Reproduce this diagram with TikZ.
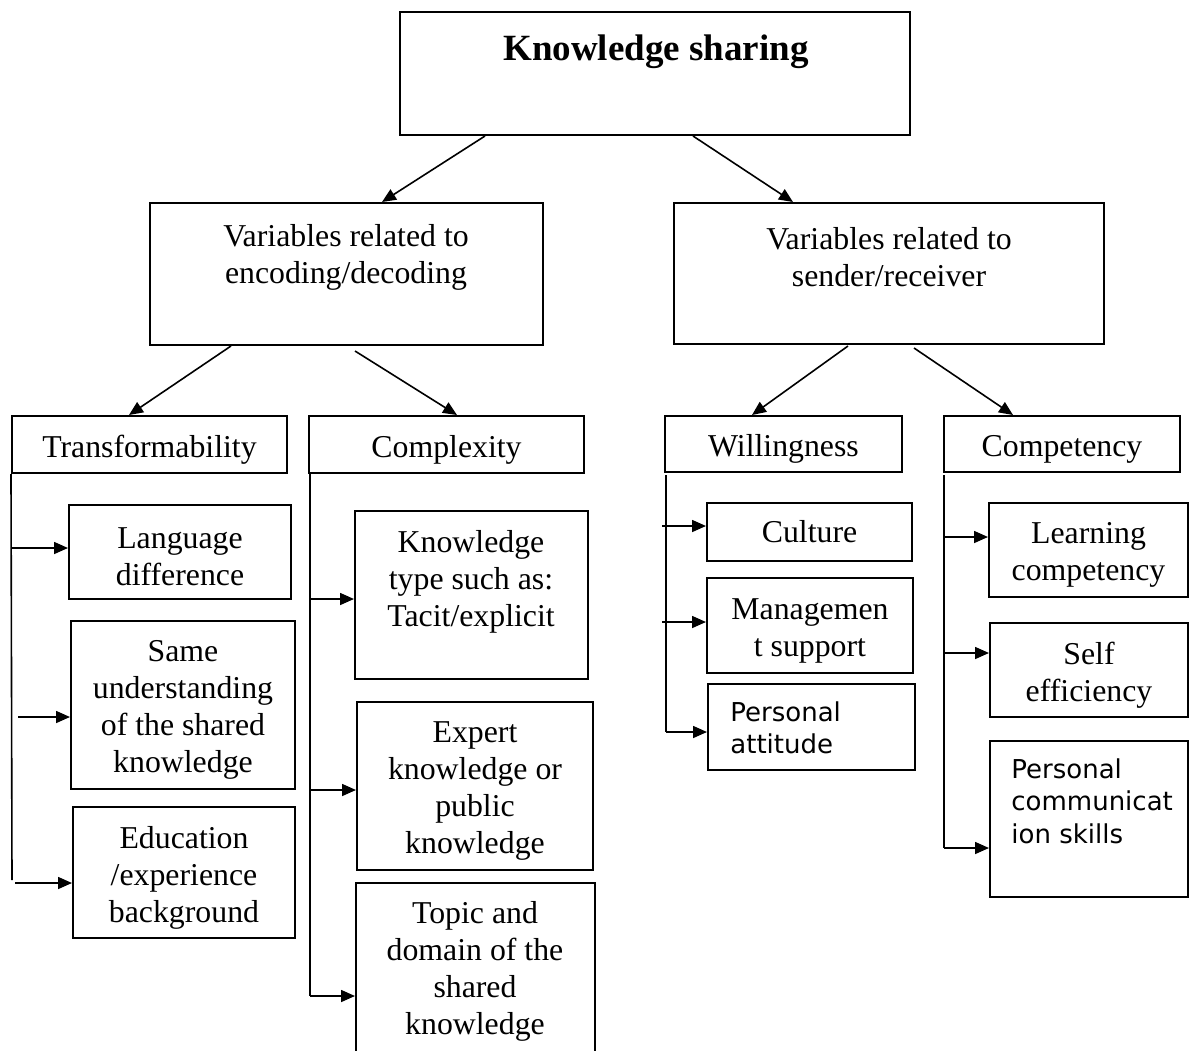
\documentclass[tikz,border=0pt]{standalone}
\usepackage{fontspec}
\setmainfont{Liberation Serif}
\newfontfamily\plainsans{DejaVu Sans}
\usetikzlibrary{arrows.meta,fit,calc}

\begin{document}
\begin{tikzpicture}[x=0.5pt,y=-0.5pt,
  serif/.style={font=\fontsize{15.9}{18.5}\selectfont},
  bx/.style={draw,line width=1pt,inner sep=0pt,fit={#1}},
  txt/.style={align=center,inner sep=0pt,serif},
  intext/.style={txt,yshift=-2.6pt},
  stxt/.style={align=left,inner sep=0pt,anchor=west,
    font=\plainsans\fontsize{13}{16.25}\selectfont},
  arr/.style={line width=0.8pt,-{Triangle[length=7pt,width=6pt]}},
  trunk/.style={line width=0.8pt}]
\useasboundingbox (0,0) rectangle (1189,1050);
\fill[white] (0,0) rectangle (1189,1050);

% ---- root ----
\node[bx={(400,12)(910,135)}] (ks) {};
\node[txt,font=\bfseries\fontsize{18.5}{22}\selectfont] (ks-t) at (656,52) {Knowledge sharing};

% ---- second level ----
\node[bx={(150,203)(543,345)}] (enc) {};
\node[txt] (enc-t) at (346,257) {Variables related to\\encoding/decoding};
\node[bx={(674,203)(1104,344)}] (snd) {};
\node[txt] (snd-t) at (889,257) {Variables related to\\sender/receiver};

% ---- third level ----
\node[bx={(12,416)(287,473)}] (trans) {};
\node[intext] (trans-t) at (trans) {Transformability};
\node[bx={(309,416)(584,473)}] (cplx) {};
\node[intext] (cplx-t) at (cplx) {Complexity};
\node[bx={(665,416)(902,472)}] (will) {};
\node[intext] (will-t) at (will) {Willingness};
\node[bx={(944,416)(1180,472)}] (comp) {};
\node[intext] (comp-t) at (comp) {Competency};

% ---- transformability items ----
\node[bx={(69,505)(291,599)}] (lang) {};
\node[intext] (lang-t) at (lang) {Language\\difference};
\node[bx={(71,621)(295,789)}] (same) {};
\node[intext] (same-t) at (same) {Same\\understanding\\of the shared\\knowledge};
\node[bx={(73,807)(295,938)}] (edu) {};
\node[intext] (edu-t) at (edu) {Education\\/experience\\background};

% ---- complexity items ----
\node[bx={(355,511)(588,679)}] (ktype) {};
\node[txt] (ktype-t) at (471,582) {Knowledge\\type such as:\\Tacit/explicit};
\node[bx={(357,702)(593,870)}] (expert) {};
\node[intext] (expert-t) at (expert) {Expert\\knowledge or\\public\\knowledge};
\node[bx={(356,883)(595,1062)}] (topic) {};
\node[txt] (topic-t) at (475,971) {Topic and\\domain of the\\shared\\knowledge};

% ---- willingness items ----
\node[bx={(707,503)(912,561)}] (cult) {};
\node[txt] (cult-t) at (cult) {Culture};
\node[bx={(707,578)(913,673)}] (mgmt) {};
\node[intext] (mgmt-t) at (mgmt) {Managemen\\t support};
\node[bx={(708,684)(915,770)}] (att) {};
\node[stxt] (att-t) at (730,728) {Personal\\attitude};

% ---- competency items ----
\node[bx={(989,503)(1188,597)}] (learn) {};
\node[intext] (learn-t) at (learn) {Learning\\competency};
\node[bx={(990,623)(1188,717)}] (self) {};
\node[intext] (self-t) at (self) {Self\\efficiency};
\node[bx={(990,741)(1188,897)}] (pcom) {};
\node[stxt] (pcom-t) at (1011,801) {Personal\\communicat\\ion skills};

% ---- diagonal connectors ----
\draw[arr] ($(ks.south west)+(86,0)$) -- ($(enc.north west)+(233,0)$);
\draw[arr] ($(ks.south west)+(294,0)$) -- ($(snd.north west)+(120,0)$);
\draw[arr] ($(enc.south west)+(82,0)$) -- ($(trans.north west)+(118,0)$);
\draw[arr] ($(enc.south west)+(206,5)$) -- ($(cplx.north west)+(149,0)$);
\draw[arr] ($(snd.south west)+(175,1)$) -- ($(will.north west)+(88,0)$);
\draw[arr] ($(snd.south west)+(241,3)$) -- ($(comp.north west)+(70,0)$);

% ---- transformability trunk ----
\coordinate (ta1) at (12,548);
\coordinate (ta2) at (18,717);
\coordinate (ta3) at (15,883);
\coordinate (taend) at (12,880);
\draw[trunk] (trans.south west) -- (taend);
\draw[arr] (ta1) -- (lang.west |- ta1);
\draw[arr] (ta2) -- (same.west |- ta2);
\draw[arr] (ta3) -- (edu.west |- ta3);

% ---- complexity trunk ----
\coordinate (cb0) at (310,473);
\coordinate (cb1) at (310,599);
\coordinate (cb2) at (310,790);
\coordinate (cb3) at (310,996);
\draw[trunk] (cb0) -- (cb3);
\draw[arr] (cb1) -- (ktype.west |- cb1);
\draw[arr] (cb2) -- (expert.west |- cb2);
\draw[arr] (cb3) -- (topic.west |- cb3);

% ---- willingness trunk ----
\coordinate (wc0) at (666,475);
\coordinate (wc1) at (662,526);
\coordinate (wc2) at (662,622);
\coordinate (wc3) at (666,732);
\draw[trunk] (wc0) -- (wc3);
\draw[arr] (wc1) -- (cult.west |- wc1);
\draw[arr] (wc2) -- (mgmt.west |- wc2);
\draw[arr] (wc3) -- (att.west |- wc3);

% ---- competency trunk ----
\coordinate (cd0) at (944,475);
\coordinate (cd1) at (944,537);
\coordinate (cd2) at (944,653);
\coordinate (cd3) at (944,848);
\draw[trunk] (cd0) -- (cd3);
\draw[arr] (cd1) -- (learn.west |- cd1);
\draw[arr] (cd2) -- (self.west |- cd2);
\draw[arr] (cd3) -- (pcom.west |- cd3);
\end{tikzpicture}
\end{document}
